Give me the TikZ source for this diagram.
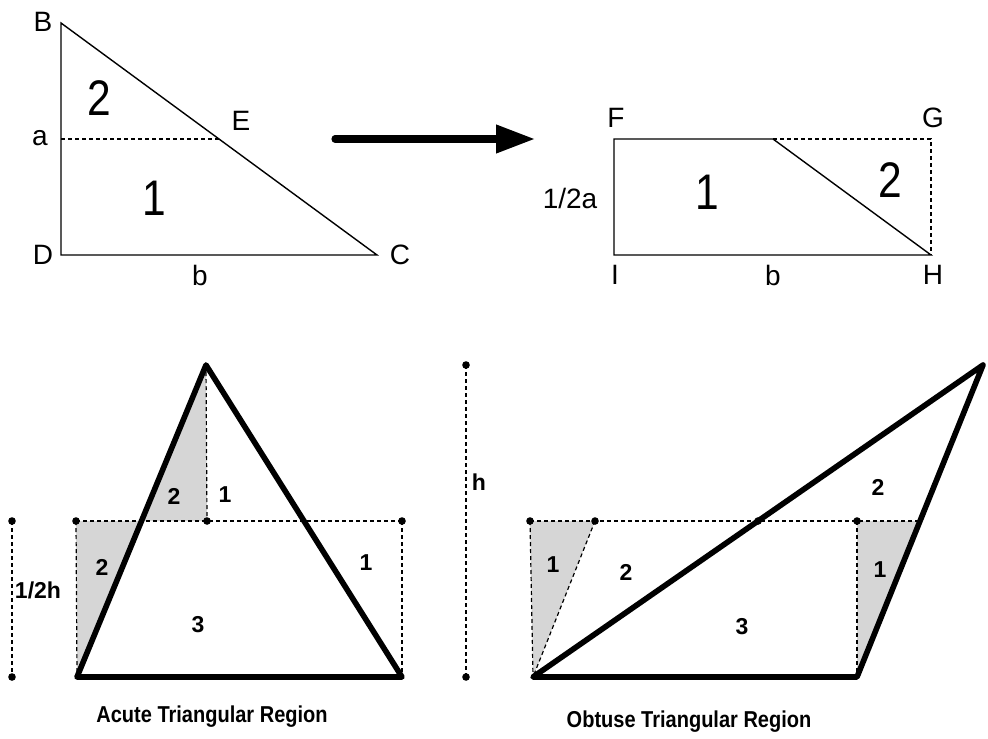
\documentclass[tikz,border=0pt]{standalone}
\usepackage{fontspec}
\setmainfont{Liberation Sans}
\newfontfamily\titlefont[FakeStretch=0.87]{Liberation Sans Bold}
\newfontfamily\numfont[FakeStretch=0.85]{Liberation Sans}
\usetikzlibrary{arrows.meta}
\tikzset{
  thinline/.style={line width=0.7pt},
  dashline/.style={line width=0.6pt, dash pattern=on 2pt off 1.5pt},
  thickline/.style={line width=2.8pt, line join=round, line cap=round},
  shade/.style={fill=black!16, draw=none},
  dotc/.style={circle, fill=black, inner sep=0pt, minimum size=3.8pt},
  lab/.style={font=\fontsize{14}{14}\selectfont, inner sep=0pt},
  biglab/.style={font=\fontsize{25}{25}\selectfont\numfont, inner sep=0pt},
  blab/.style={font=\fontsize{11.5}{11.5}\selectfont\bfseries, inner sep=0pt},
  ttl/.style={font=\fontsize{11.5}{11.5}\selectfont\titlefont, inner sep=0pt}
}
\begin{document}
\begin{tikzpicture}[x=0.5pt,y=-0.5pt]
\useasboundingbox (0,0) rectangle (988,738);
% ---------- top left triangle ----------
\coordinate (B) at (61,23);
\coordinate (D) at (61,255);
\coordinate (C) at (377,255);
\coordinate (E) at (219,139);
\coordinate (Ea) at (61,139);
\draw[thinline] (B) -- (D) -- (C) -- cycle;
\draw[dashline] (Ea) -- (E);
\node[lab] (lB) at (43,22) {B};
\node[lab] (la) at (40,138) {a};
\node[lab] (lE) at (241,121) {E};
\node[lab] (lD) at (43,255) {D};
\node[lab] (lC) at (400,255) {C};
\node[lab] (lb1) at (200,275) {b};
\node[biglab] (t2) at (99,98) {2};
\node[biglab] (t1) at (154,198) {1};
% ---------- arrow ----------
\coordinate (arS) at (335,139);
\coordinate (arE) at (535,139);
\draw[line width=3.6pt, line cap=round, -{Triangle[length=19.5pt,width=13.5pt]}] (arS) -- (arE);
% ---------- rectangle ----------
\coordinate (F) at (614,139);
\coordinate (G) at (931,139);
\coordinate (H) at (931,255);
\coordinate (I) at (614,255);
\coordinate (K) at (773,139);
\draw[thinline] (K) -- (F) -- (I) -- (H) -- (K);
\draw[dashline] (K) -- (G) -- (H);
\node[lab] (lF) at (616,118) {F};
\node[lab] (lG) at (933,118) {G};
\node[lab] (lH) at (933,275) {H};
\node[lab] (lI) at (615,275) {I};
\node[lab] (lb2) at (773,275) {b};
\node[lab] (lha) at (570,198) {1/2a};
\node[biglab] (r1) at (707,192) {1};
\node[biglab] (r2) at (890,180) {2};
% ---------- acute triangle ----------
\coordinate (A1) at (77,677);
\coordinate (A2) at (402,677);
\coordinate (A3) at (206,365);
\coordinate (AM) at (207,521);
\coordinate (AL) at (76,521);
\coordinate (AR) at (402,521);
\coordinate (AX) at (141.5,521);
\coordinate (AY) at (304,521);
\fill[shade] (AL) -- (AX) -- (A1) -- cycle;
\fill[shade] (A3) -- (AM) -- (AX) -- cycle;
\draw[dashline] (AL) -- (AR);
\draw[dashline] (AL) -- (A1);
\draw[dashline] (AR) -- (A2);
\draw[dashline] (A3) -- (AM);
\coordinate (hhT) at (12,521);
\coordinate (hhB) at (12,677);
\draw[dashline] (hhT) -- (hhB);
\coordinate (hT) at (466,365);
\coordinate (hB) at (466,677);
\draw[dashline] (hT) -- (hB);
\draw[thickline] (A1) -- (A2) -- (A3) -- cycle;
\foreach \p in {AL,AM,AR,hhT,hhB,hT,hB} \node[dotc] at (\p) {};
\node[blab] (a2a) at (174,496) {2};
\node[blab] (a1a) at (225,495) {1};
\node[blab] (a2b) at (102,567) {2};
\node[blab] (a1b) at (366,563) {1};
\node[blab] (a3) at (198,625) {3};
\node[blab] (lhh) at (38,590) {1/2h};
\node[blab] (lh) at (479,482) {h};
\node[ttl] (ta) at (212,717) {Acute Triangular Region};
% ---------- obtuse triangle ----------
\coordinate (O1) at (533,677);
\coordinate (O2) at (857,677);
\coordinate (O3) at (983,365);
\coordinate (OL) at (530,521);
\coordinate (OP) at (595,521);
\coordinate (OM) at (758,521);
\coordinate (OQ) at (857,521);
\coordinate (OR) at (920,521);
\fill[shade] (OL) -- (OP) -- (O1) -- cycle;
\fill[shade] (OQ) -- (OR) -- (O2) -- cycle;
\draw[dashline] (OL) -- (OR);
\draw[dashline] (OL) -- (O1);
\draw[dashline] (OP) -- (O1);
\draw[dashline] (OQ) -- (O2);
\draw[thickline] (O1) -- (O2) -- (O3) -- cycle;
\foreach \p in {OL,OP,OM,OQ} \node[dotc] at (\p) {};
\node[blab] (o1a) at (553,565) {1};
\node[blab] (o2a) at (626,572) {2};
\node[blab] (o2b) at (878,487) {2};
\node[blab] (o1b) at (880,570) {1};
\node[blab] (o3) at (742,627) {3};
\node[ttl] (to) at (689,722) {Obtuse Triangular Region};
\end{tikzpicture}
\end{document}
